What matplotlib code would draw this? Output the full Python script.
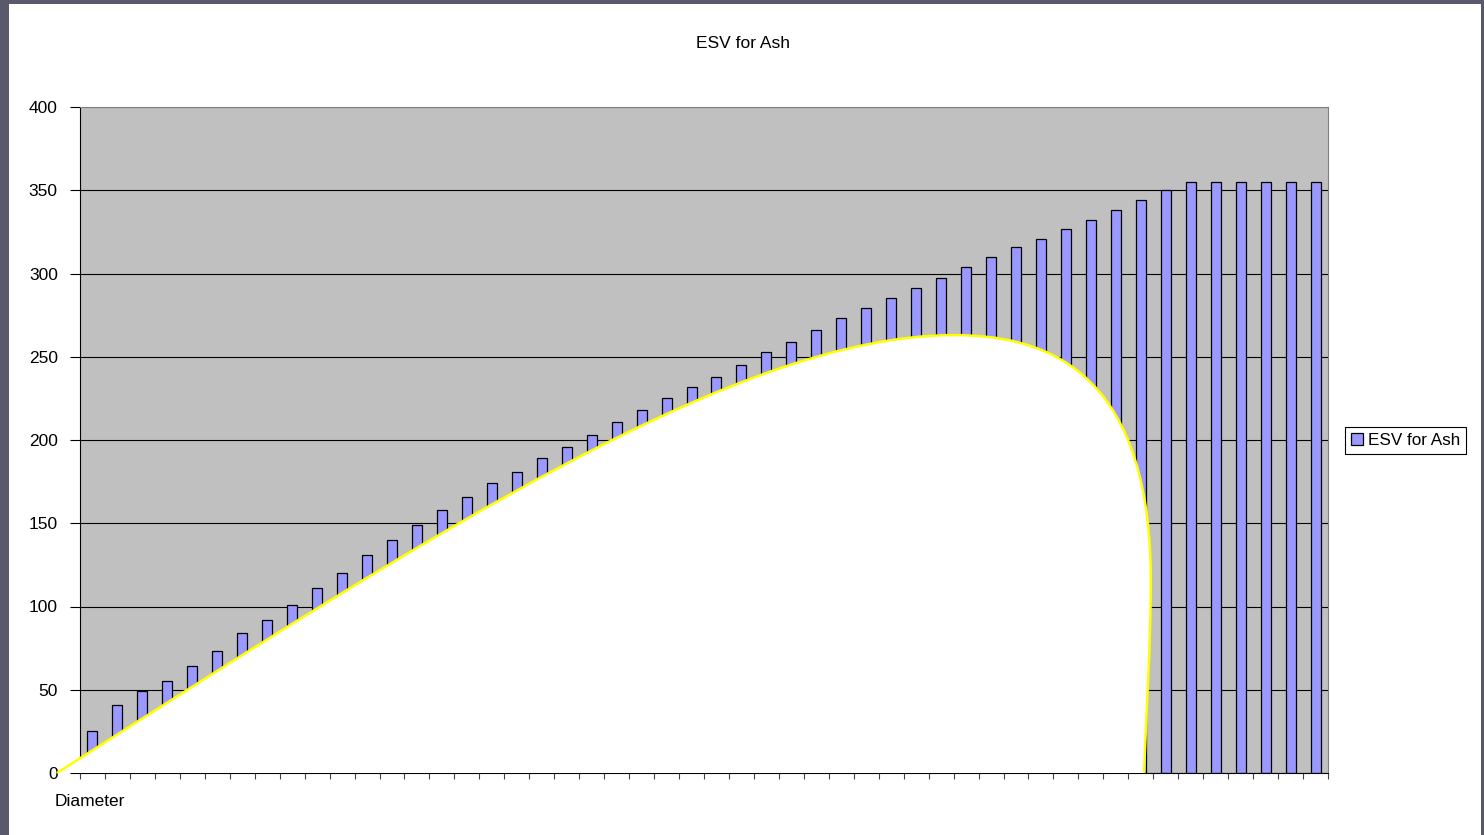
import numpy as np
import matplotlib.pyplot as plt
from matplotlib.patches import Rectangle, PathPatch
from matplotlib.path import Path

plt.rcParams['font.family'] = ['Liberation Sans', 'DejaVu Sans']

# ESV per diameter class (50 classes)
esv = [25, 41, 49, 55, 64, 73, 84, 92, 101, 111,
       120, 131, 140, 149, 158, 166, 174, 181, 189, 196,
       203, 211, 218, 225, 232, 238, 245, 253, 259, 266,
       273, 279, 285, 291, 297, 304, 310, 316, 321, 327,
       332, 338, 344, 350, 355, 355, 355, 355, 355, 355]
series_name = 'ESV for Ash'
x_label = 'Diameter'
y_ticks = [0, 50, 100, 150, 200, 250, 300, 350, 400]

# freehand cover shape as three cubic bezier pieces (start point, then
# control, control, end for each piece), in category / value units
cover_x = [-1.42, 14, 26, 34.5, 38, 42.3, 42.4, 42.42, 42.2, 42.13]
cover_y = [0, 148, 263, 263, 263, 245, 120, 80, 30, 0]

W, H = 1484, 835
fig = plt.figure(figsize=(W / 100, H / 100), dpi=100)
fig.patch.set_facecolor('#585a6c')
fig.patches.append(Rectangle((9 / W, 0), 1472 / W, 831 / H, transform=fig.transFigure,
                             facecolor='white', edgecolor='none', zorder=-1))

ax = fig.add_axes([80 / W, 1 - 773 / H, 1248 / W, 666 / H])
ax.set_facecolor('#c0c0c0')

x = np.arange(len(esv))
ax.bar(x, esv, width=0.4, color='#9999ff', edgecolor='black', linewidth=0.9,
       label=series_name, zorder=2)

ax.set_xlim(-0.5, len(esv) - 0.5)
ax.set_ylim(0, 400)
ax.set_yticks(y_ticks)
ax.set_xticks(np.arange(len(esv) + 1) - 0.5)
ax.set_xticklabels([])
ax.yaxis.grid(True, color='black', linewidth=0.8)
ax.set_axisbelow(True)
ax.tick_params(axis='x', length=4, width=0.8, color='#444444', direction='out')
ax.tick_params(axis='y', length=7, width=0.8, pad=9, labelsize=12.5)
for side in ['top', 'right']:
    ax.spines[side].set_color('#808080')
for side in ['left', 'bottom']:
    ax.spines[side].set_color('black')

# white cover with yellow outline drawn over the chart
verts = list(zip(cover_x, cover_y))
codes = [Path.MOVETO] + [Path.CURVE4] * (len(verts) - 1)
outline = Path(verts, codes)
filled = Path(verts + [verts[0], verts[0]],
              codes + [Path.LINETO, Path.CLOSEPOLY])

fill_patch = PathPatch(filled, facecolor='white', edgecolor='none', zorder=5)
fill_patch.set_clip_on(False)
ax.add_patch(fill_patch)
line_patch = PathPatch(outline, facecolor='none', edgecolor='#ffff00',
                       linewidth=1.8, zorder=6)
line_patch.set_clip_on(False)
ax.add_patch(line_patch)

leg = ax.legend(loc='center left', bbox_to_anchor=(1345 / W, 1 - 440.5 / H),
                bbox_transform=fig.transFigure, fancybox=False, edgecolor='black',
                framealpha=1, borderaxespad=0, fontsize=12.3, handlelength=0.7,
                handleheight=0.7, handletextpad=0.3, borderpad=0.35)
leg.get_frame().set_linewidth(0.8)

fig.text(743 / W, 1 - 43 / H, series_name, ha='center', va='center', fontsize=12.5)
fig.text(55 / W, 1 - 801 / H, x_label, ha='left', va='center', fontsize=12.5)

fig.savefig('out.png', dpi=100, facecolor=fig.get_facecolor())
